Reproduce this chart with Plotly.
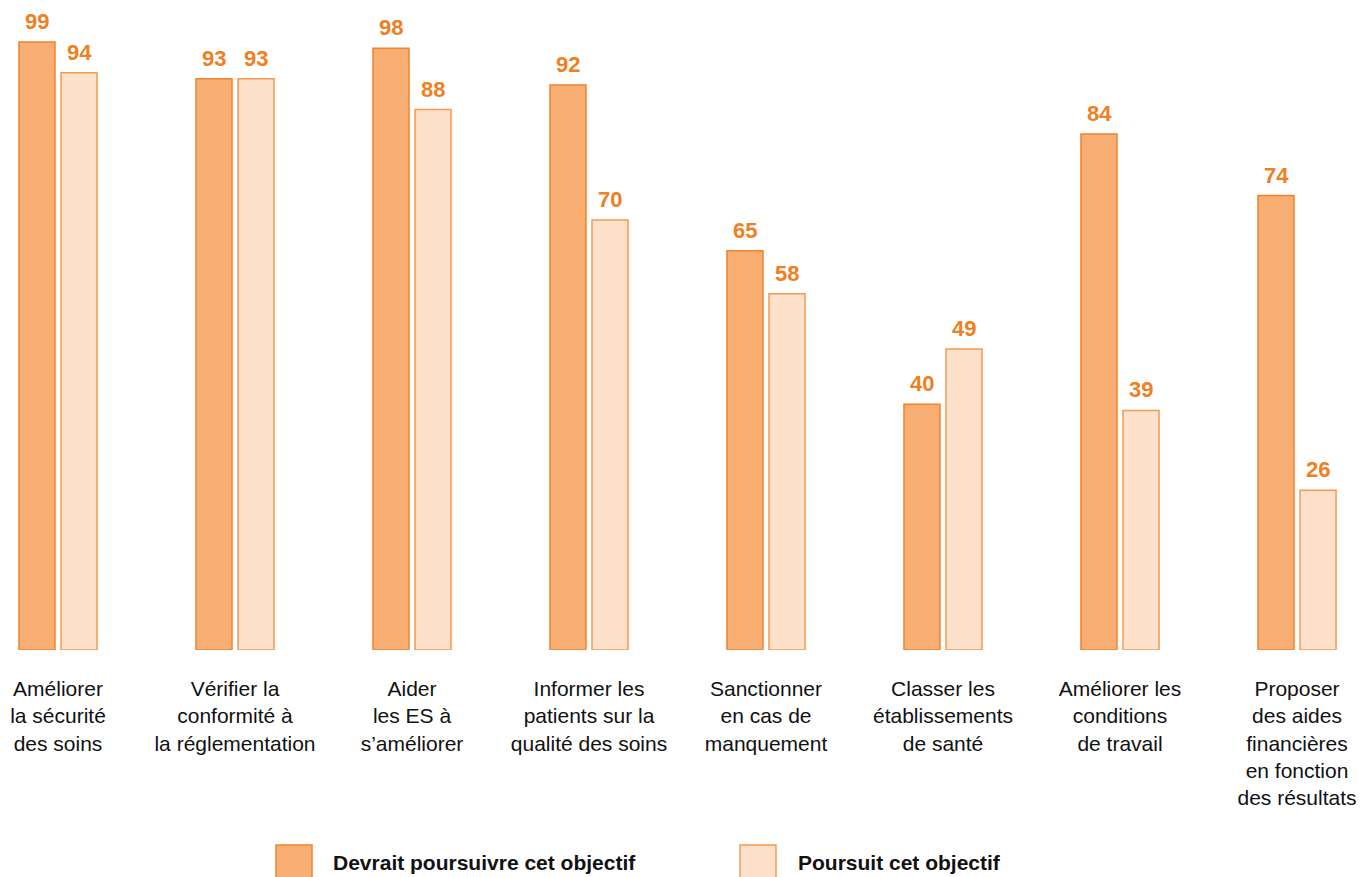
import plotly.graph_objects as go

categories = [
    "Améliorer<br>la sécurité<br>des soins",
    "Vérifier la<br>conformité à<br>la réglementation",
    "Aider<br>les ES à<br>s’améliorer",
    "Informer les<br>patients sur la<br>qualité des soins",
    "Sanctionner<br>en cas de<br>manquement",
    "Classer les<br>établissements<br>de santé",
    "Améliorer les<br>conditions<br>de travail",
    "Proposer<br>des aides<br>financières<br>en fonction<br>des résultats",
]
devrait = [99, 93, 98, 92, 65, 40, 84, 74]
poursuit = [94, 93, 88, 70, 58, 49, 39, 26]
series_names = ["Devrait poursuivre cet objectif", "Poursuit cet objectif"]

W, H = 1360, 877
BASE = 650  # pixel of the baseline
idx = list(range(len(categories)))

dark_fill, dark_line = "#F8AE72", "#F0842C"
light_fill, light_line = "#FDE1CA", "#F39A50"
label_color = "#F07F22"
FONT = "Liberation Sans, Arial, sans-serif"

fig = go.Figure()
for vals, name, fill, line in [
    (devrait, series_names[0], dark_fill, dark_line),
    (poursuit, series_names[1], light_fill, light_line),
]:
    fig.add_trace(go.Bar(
        x=idx, y=vals, name=name,
        marker=dict(color=fill, line=dict(color=line, width=1.5)),
        showlegend=False, hoverinfo="y",
    ))

# value labels above bars
for vals, shift in [(devrait, -21), (poursuit, 21)]:
    for i, v in zip(idx, vals):
        fig.add_annotation(x=i, y=v, xref="x", yref="y", xshift=shift, yshift=6,
                           yanchor="bottom", xanchor="center", showarrow=False,
                           text=str(v),
                           font=dict(family=FONT, size=22, color=label_color, weight="bold"))

px_per_cat = 177.0
c0 = 58.0
px_per_unit = 608 / 99

fig.update_layout(
    width=W, height=H,
    margin=dict(l=0, r=0, t=0, b=H - BASE, pad=0),
    paper_bgcolor="white", plot_bgcolor="white",
    barmode="group", bargap=0.525, bargroupgap=0.143,
    xaxis=dict(
        range=[-c0 / px_per_cat, (W - c0) / px_per_cat],
        tickmode="array", tickvals=idx, ticktext=categories,
        showgrid=False, zeroline=False, showline=False, ticks="",
        ticklabelstandoff=24,
        tickfont=dict(family=FONT, size=21, color="#111111"),
    ),
    yaxis=dict(
        range=[0, BASE / px_per_unit],
        visible=False, showgrid=False, zeroline=False,
    ),
)

# Legend drawn manually (large swatches)
def py(y):
    return (BASE - y) / BASE

def pxx(x):
    return x / W

legend_items = [
    (276, 331, dark_fill, dark_line, series_names[0]),
    (740, 796, light_fill, light_line, series_names[1]),
]
for sx, tx, fill, line, name in legend_items:
    fig.add_shape(type="rect", xref="paper", yref="paper",
                  x0=pxx(sx), x1=pxx(sx + 36), y0=py(882), y1=py(845),
                  fillcolor=fill, line=dict(color=line, width=1.5))
    fig.add_annotation(xref="paper", yref="paper", x=pxx(tx), y=py(862),
                       xanchor="left", yanchor="middle", showarrow=False,
                       text=name,
                       font=dict(family=FONT, size=21, color="#111111", weight="bold"))

fig.write_html("out.html")
